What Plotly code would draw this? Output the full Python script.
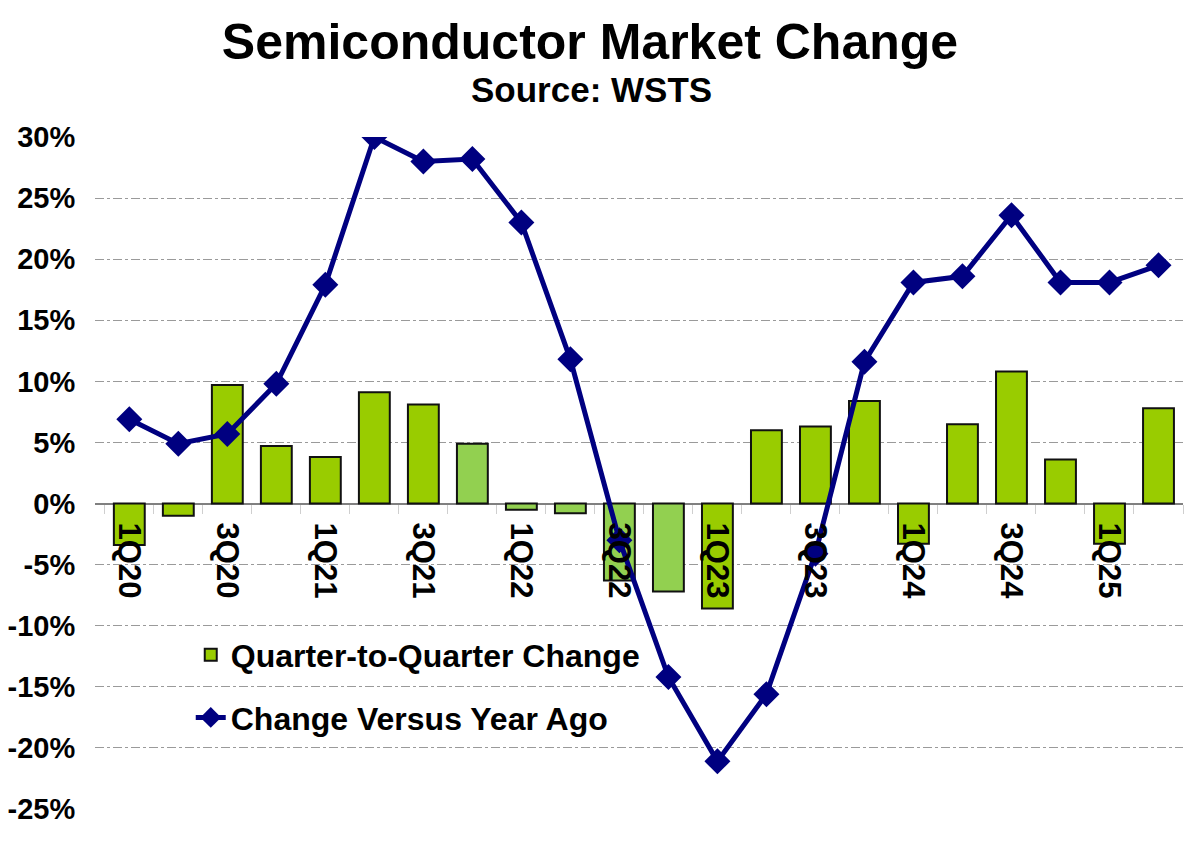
import plotly.graph_objects as go

quarters = ["1Q20", "2Q20", "3Q20", "4Q20", "1Q21", "2Q21", "3Q21", "4Q21",
            "1Q22", "2Q22", "3Q22", "4Q22", "1Q23", "2Q23", "3Q23", "4Q23",
            "1Q24", "2Q24", "3Q24", "4Q24", "1Q25", "2Q25"]
tick_text = ["1Q20", "", "3Q20", "", "1Q21", "", "3Q21", "",
             "1Q22", "", "3Q22", "", "1Q23", "", "3Q23", "",
             "1Q24", "", "3Q24", "", "1Q25", ""]
qoq_change = [-3.4, -1.0, 9.7, 4.7, 3.8, 9.1, 8.1, 4.9,
              -0.5, -0.8, -6.3, -7.2, -8.6, 6.0, 6.3, 8.4,
              -3.3, 6.5, 10.8, 3.6, -3.3, 7.8]
yoy_change = [6.9, 4.9, 5.7, 9.8, 17.9, 30.0, 28.0, 28.2,
              23.0, 11.8, -3.0, -14.2, -21.1, -15.6, -4.1, 11.6,
              18.1, 18.6, 23.6, 18.1, 18.1, 19.5]
light_quarters = ["4Q21", "1Q22", "2Q22", "3Q22", "4Q22"]
y_tick_vals = [-25, -20, -15, -10, -5, 0, 5, 10, 15, 20, 25, 30]
y_tick_text = ["-25%", "-20%", "-15%", "-10%", "-5%", "0%", "5%", "10%", "15%", "20%", "25%", "30%"]

DARK_GREEN = "#99CC00"
LIGHT_GREEN = "#92D050"
NAVY = "#000080"
bar_colors = [LIGHT_GREEN if q in light_quarters else DARK_GREEN for q in quarters]

FONT = "Liberation Sans, Arial, sans-serif"

fig = go.Figure()
fig.add_trace(go.Bar(
    x=quarters, y=qoq_change, name="Quarter-to-Quarter Change",
    marker=dict(color=bar_colors, line=dict(color="#111111", width=2)),
    legendgroup="a",
))
fig.add_trace(go.Scatter(
    x=quarters, y=yoy_change, name="Change Versus Year Ago",
    mode="lines+markers",
    line=dict(color=NAVY, width=5),
    marker=dict(symbol="diamond", size=20, color=NAVY),
    legendgroup="b",
))

fig.update_layout(
    width=1200, height=841,
    margin=dict(l=87, r=25, t=129, b=40),
    paper_bgcolor="white", plot_bgcolor="white",
    bargap=0.37,
    showlegend=True,
    title=dict(text="Semiconductor Market Change", x=582/1200, xanchor="center",
               y=1 - 33/841, yanchor="middle", automargin=False,
               font=dict(family=FONT, size=50, color="black", weight="bold")),
    legend=dict(x=0.088, y=0.27, xanchor="left", yanchor="top",
                bgcolor="rgba(0,0,0,0)", traceorder="grouped", tracegroupgap=18,
                font=dict(family=FONT, size=32, color="black", weight="bold")),
    xaxis=dict(
        type="category", range=[-0.7, 21.5], automargin=False,
        tickmode="array", tickvals=quarters, ticktext=tick_text,
        tickangle=90, tickson="boundaries", ticks="outside", ticklen=9,
        tickcolor="#cfcfcf", tickwidth=1, ticklabelstandoff=18,
        tickfont=dict(family=FONT, size=31, color="black", weight="bold"),
        anchor="free", position=25/55, showline=False, showgrid=False,
        zeroline=False, layer="above traces",
    ),
    yaxis=dict(
        range=[-25, 30], tickmode="array", tickvals=y_tick_vals, ticktext=y_tick_text,
        automargin=False,
        showgrid=True, gridcolor="#9a9a9a", gridwidth=1, griddash="dashdot",
        zeroline=True, zerolinecolor="#808080", zerolinewidth=1.5,
        ticks="outside", ticklen=13, tickcolor="rgba(0,0,0,0)",
        tickfont=dict(family=FONT, size=29, color="black", weight="bold"),
        showline=False,
    ),
    annotations=[dict(text="Source: WSTS", xref="paper", yref="paper",
                      x=(591-95)/1088, y=1 + 47.5/672, xanchor="center", yanchor="middle",
                      showarrow=False,
                      font=dict(family=FONT, size=35, color="black", weight="bold"))],
)

fig.write_html("out.html")
